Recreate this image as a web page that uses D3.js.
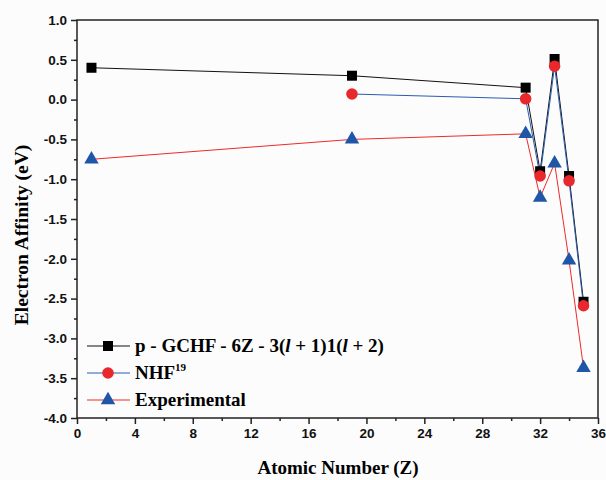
<!DOCTYPE html>
<html lang="en">
<head>
<meta charset="UTF-8">
<title>Electron Affinity</title>
<script src="https://d3js.org/d3.v7.min.js"></script>
<style>
  body { margin: 0; background: #fcfcfc; }
  svg { display: block; }
</style>
</head>
<body>
<svg id="chart" width="606" height="480"></svg>
<script>
// data
var zGchf = [1, 19, 31, 32, 33, 34, 35];
var eaGchf = [0.40, 0.30, 0.15, -0.90, 0.51, -0.96, -2.54];
var zNhf = [19, 31, 32, 33, 34, 35];
var eaNhf = [0.07, 0.01, -0.96, 0.42, -1.02, -2.59];
var zExp = [1, 19, 31, 32, 33, 34, 35];
var eaExp = [-0.75, -0.50, -0.43, -1.23, -0.80, -2.02, -3.37];
var xTicks = [0, 4, 8, 12, 16, 20, 24, 28, 32, 36];
var yTicks = [1.0, 0.5, 0.0, -0.5, -1.0, -1.5, -2.0, -2.5, -3.0, -3.5, -4.0];

var svg = d3.select("#chart");
// plot box (note: "top" is taken by window.top, so prefix these)
var pLeft = 77, pRight = 598, pTop = 20, pBottom = 418;

var x = d3.scaleLinear().domain([0, 36]).range([pLeft, pRight]);
var y = d3.scaleLinear().domain([-4, 1]).range([pBottom, pTop]);

var sans = "'Liberation Sans', Arial, sans-serif";
var serif = "'Liberation Serif', 'Times New Roman', serif";

// plain hyphen instead of d3's unicode minus
var fmtY = function (d) { return d3.format(".1f")(d).replace("\u2212", "-"); };

// frame
svg.append("rect")
    .attr("x", pLeft).attr("y", pTop)
    .attr("width", pRight - pLeft).attr("height", pBottom - pTop)
    .attr("fill", "none").attr("stroke", "#222").attr("stroke-width", 1.5);

// x axis
var xAxis = svg.append("g").attr("transform", "translate(0," + pBottom + ")")
    .call(d3.axisBottom(x).tickValues(xTicks).tickFormat(d3.format("d")).tickSize(6).tickPadding(4));
xAxis.select(".domain").remove();
var xMinor = svg.append("g").attr("transform", "translate(0," + pBottom + ")")
    .call(d3.axisBottom(x).tickValues(d3.range(2, 36, 4)).tickFormat("").tickSize(3));
xMinor.select(".domain").remove();

// y axis
var yAxis = svg.append("g").attr("transform", "translate(" + pLeft + ",0)")
    .call(d3.axisLeft(y).tickValues(yTicks).tickFormat(fmtY).tickSize(6).tickPadding(4));
yAxis.select(".domain").remove();
var yMinor = svg.append("g").attr("transform", "translate(" + pLeft + ",0)")
    .call(d3.axisLeft(y).tickValues(d3.range(-3.75, 1, 0.5)).tickFormat("").tickSize(3));
yMinor.select(".domain").remove();

svg.selectAll(".tick line").attr("stroke", "#222").attr("stroke-width", 1.5);
svg.selectAll(".tick text")
    .attr("fill", "#111")
    .style("font-family", sans).style("font-weight", "bold").style("font-size", "13.5px");

// axis titles
svg.append("text")
    .attr("x", 338).attr("y", 474)
    .attr("text-anchor", "middle")
    .style("font-family", serif).style("font-weight", "bold").style("font-size", "19px")
    .text("Atomic Number (Z)");
svg.append("text")
    .attr("transform", "translate(28,235) rotate(-90)")
    .attr("text-anchor", "middle")
    .style("font-family", serif).style("font-weight", "bold").style("font-size", "19.5px")
    .text("Electron Affinity (eV)");

var line = d3.line().x(function (d) { return x(d[0]); }).y(function (d) { return y(d[1]); });

var series = [
    { xs: zGchf, ys: eaGchf, line: "#111", fill: "#000", shape: d3.symbolSquare, size: 100 },
    { xs: zNhf, ys: eaNhf, line: "#2a5cb0", fill: "#e8282c", shape: d3.symbolCircle, size: 105 },
    { xs: zExp, ys: eaExp, line: "#ee2a2a", fill: "#1f56a8", shape: d3.symbolTriangle, size: 90 }
];

series.forEach(function (s) {
    var pts = s.xs.map(function (v, i) { return [v, s.ys[i]]; });
    svg.append("path")
        .attr("d", line(pts))
        .attr("fill", "none").attr("stroke", s.line).attr("stroke-width", 1);
});

series.forEach(function (s) {
    var pts = s.xs.map(function (v, i) { return [v, s.ys[i]]; });
    svg.append("g").selectAll("path")
        .data(pts)
        .enter().append("path")
        .attr("transform", function (d) { return "translate(" + x(d[0]) + "," + y(d[1]) + ")"; })
        .attr("d", d3.symbol().type(s.shape).size(s.size))
        .attr("fill", s.fill);
});

// legend
var legendY = [346, 373, 400];
var legend = svg.append("g");
series.forEach(function (s, i) {
    legend.append("line")
        .attr("x1", 87).attr("x2", 130).attr("y1", legendY[i]).attr("y2", legendY[i])
        .attr("stroke", s.line).attr("stroke-width", 1);
    legend.append("path")
        .attr("transform", "translate(108," + legendY[i] + ")")
        .attr("d", d3.symbol().type(s.shape).size(s.size))
        .attr("fill", s.fill);
});

var t1 = legend.append("text")
    .attr("x", 135).attr("y", legendY[0] + 6)
    .style("font-family", serif).style("font-weight", "bold").style("font-size", "19px");
t1.append("tspan").text("p - GCHF - 6Z - 3(");
t1.append("tspan").style("font-style", "italic").text("l");
t1.append("tspan").text(" + 1)1(");
t1.append("tspan").style("font-style", "italic").text("l");
t1.append("tspan").text(" + 2)");

var t2 = legend.append("text")
    .attr("x", 135).attr("y", legendY[1] + 6)
    .style("font-family", serif).style("font-weight", "bold").style("font-size", "19px");
t2.append("tspan").text("NHF");
t2.append("tspan").attr("dy", -8).style("font-size", "11px").text("19");

legend.append("text")
    .attr("x", 135).attr("y", legendY[2] + 6)
    .style("font-family", serif).style("font-weight", "bold").style("font-size", "19px")
    .text("Experimental");
</script>
</body>
</html>
